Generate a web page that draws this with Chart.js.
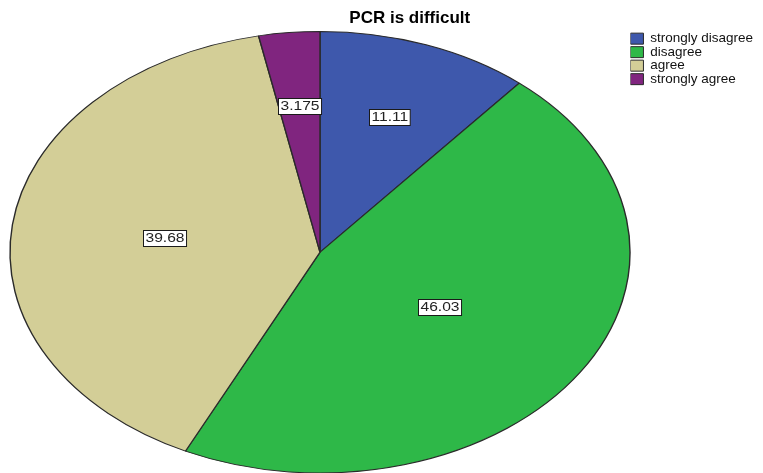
<!DOCTYPE html>
<html>
<head>
<meta charset="utf-8">
<title>PCR is difficult</title>
<script src="https://cdn.jsdelivr.net/npm/chart.js@4/dist/chart.umd.min.js"></script>
<style>
  html, body { margin: 0; padding: 0; background: #ffffff; }
  canvas { display: block; }
</style>
</head>
<body>
<canvas id="pie" width="763" height="473" style="width:763px;height:473px"></canvas>
<script>
// Survey answers to "PCR is difficult" (percent of respondents)
const chartTitle = 'PCR is difficult';
const categories = ['strongly disagree', 'disagree', 'agree', 'strongly agree'];
const percents = [11.11, 46.03, 39.68, 3.175];

const sliceColors = ['#3E58AC', '#2EB848', '#D3CE97', '#80257F'];
const FONT = "'Liberation Sans', Arial, Helvetica, sans-serif";

// Draws the pie stretched into an ellipse box, then puts a boxed value
// label at the centroid of every sector.
const ellipsePie = {
  id: 'ellipsePie',
  _map(chart, opts) {
    const arc = chart.getDatasetMeta(0).data[0];
    const { x, y, outerRadius } = arc.getProps(['x', 'y', 'outerRadius'], true);
    const b = opts.box;
    return {
      x0: x, y0: y, r: outerRadius,
      cx: (b.left + b.right) / 2, cy: (b.top + b.bottom) / 2,
      sx: (b.right - b.left) / 2 / outerRadius,
      sy: (b.bottom - b.top) / 2 / outerRadius
    };
  },
  beforeDatasetsDraw(chart, args, opts) {
    const m = this._map(chart, opts);
    const ctx = chart.ctx;
    ctx.save();
    ctx.translate(m.cx, m.cy);
    ctx.scale(m.sx, m.sy);
    ctx.translate(-m.x0, -m.y0);
  },
  afterDatasetsDraw(chart, args, opts) {
    const ctx = chart.ctx;
    ctx.restore();
    const m = this._map(chart, opts);
    const values = chart.data.datasets[0].data;
    chart.getDatasetMeta(0).data.forEach((arc, i) => {
      const { startAngle, endAngle, outerRadius } =
        arc.getProps(['startAngle', 'endAngle', 'outerRadius'], true);
      const half = (endAngle - startAngle) / 2;
      const mid = startAngle + half;
      // centroid of a circular sector
      const d = half > 0 ? (2 / 3) * outerRadius * Math.sin(half) / half : 0;
      const px = m.cx + d * Math.cos(mid) * m.sx;
      const py = m.cy + d * Math.sin(mid) * m.sy;

      const text = String(values[i]);
      ctx.save();
      ctx.font = opts.font;
      const k = opts.textStretch;
      const w = ctx.measureText(text).width * k + 2 * opts.padX;
      const h = opts.boxHeight;
      const bx = Math.round(px - w / 2) + 0.5;
      const by = Math.round(py - h / 2) + 0.5;
      ctx.fillStyle = '#ffffff';
      ctx.fillRect(bx, by, w, h);
      ctx.lineWidth = 1;
      ctx.strokeStyle = '#1a1a1a';
      ctx.strokeRect(bx, by, w, h);
      ctx.translate(bx + w / 2, by + h / 2 + 0.5);
      ctx.scale(k, 1);
      ctx.fillStyle = '#222222';
      ctx.textAlign = 'center';
      ctx.textBaseline = 'middle';
      ctx.fillText(text, 0, 0);
      ctx.restore();
    });
  }
};

new Chart(document.getElementById('pie'), {
  type: 'pie',
  data: {
    labels: categories,
    datasets: [{
      data: percents,
      backgroundColor: sliceColors,
      borderColor: '#2a2a2a',
      borderWidth: 1,
      hoverOffset: 0,
      clip: false
    }]
  },
  plugins: [ellipsePie],
  options: {
    responsive: false,
    animation: false,
    devicePixelRatio: 1,
    events: [],
    layout: { padding: { left: 56.5, right: 0, top: 0.5, bottom: 0 } },
    plugins: {
      title: {
        display: true,
        text: chartTitle,
        color: '#000000',
        font: { family: FONT, size: 17, weight: 'bold' },
        padding: { top: 8, bottom: 3 }
      },
      legend: {
        display: true,
        position: 'right',
        align: 'start',
        fullSize: false,
        labels: {
          boxWidth: 13,
          boxHeight: 11,
          padding: 0,
          color: '#111111',
          font: { family: FONT, size: 13.5 }
        }
      },
      tooltip: { enabled: false },
      ellipsePie: {
        box: { left: 10, top: 31.5, right: 630, bottom: 473 },
        font: '12px ' + FONT,
        textStretch: 1.3,
        padX: 2,
        boxHeight: 16
      }
    }
  }
});
</script>
</body>
</html>
